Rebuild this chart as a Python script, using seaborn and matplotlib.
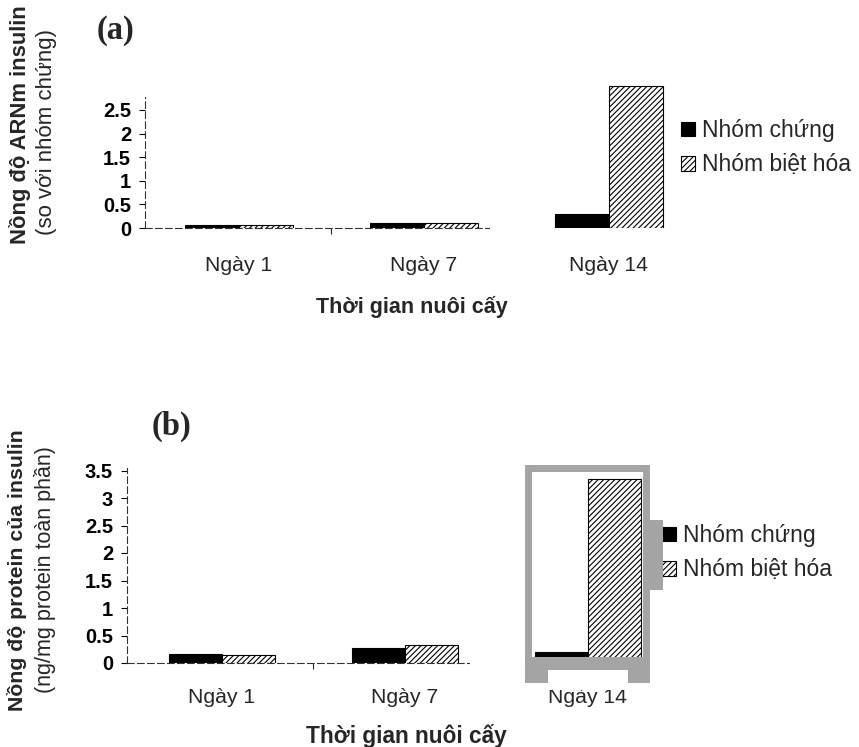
import numpy as np
import pandas as pd
import matplotlib.pyplot as plt
import seaborn as sns
from matplotlib.patches import Rectangle

# Data
days = ["Ngày 1", "Ngày 7", "Ngày 14"]
groups = ["Nhóm chứng", "Nhóm biệt hóa"]
mrna_control = [0.07, 0.11, 0.30]
mrna_diff = [0.07, 0.10, 3.00]
protein_control = [0.17, 0.27, 0.20]
protein_diff = [0.15, 0.32, 3.35]
mrna_ticks = [0, 0.5, 1, 1.5, 2, 2.5]
protein_ticks = [0, 0.5, 1, 1.5, 2, 2.5, 3, 3.5]


def long_table(ctrl, diff):
    return pd.DataFrame({
        "day": days * 2,
        "group": [groups[0]] * 3 + [groups[1]] * 3,
        "value": ctrl + diff,
    })


sns.set_theme(style="white")
plt.rcParams["font.family"] = ["Liberation Sans", "DejaVu Sans"]
plt.rcParams["hatch.linewidth"] = 0.8

W, H = 859, 747
fig = plt.figure(figsize=(W / 100, H / 100), dpi=100)


def px(x, y):
    return x / W, 1 - y / H


def draw_panel(ax, df, yticks, ylim, spine_top, xlim, xpad):
    sns.barplot(data=df, x="day", y="value", hue="group", order=days, hue_order=groups,
                palette={groups[0]: "black", groups[1]: "white"}, edgecolor="black",
                linewidth=0.8, width=0.58, saturation=1, legend=False, ax=ax)
    for bar in ax.containers[1]:
        bar.set_hatch("//////")
    ax.set_ylim(*ylim)
    ax.set_xlim(*xlim)
    ax.set_yticks(yticks)
    ax.set_yticklabels([f"{t:g}" for t in yticks], fontsize=14.5, fontweight="bold")
    ax.tick_params(axis="y", left=True, length=4, width=0.8, pad=6, colors="black")
    ax.tick_params(axis="x", bottom=False, pad=xpad, labelsize=15.3)
    ax.set_xticks([0.5], minor=True)
    ax.tick_params(axis="x", which="minor", bottom=True, length=4, width=0.8)
    ax.set_xlabel("")
    ax.set_ylabel("")
    for s in ["top", "right"]:
        ax.spines[s].set_visible(False)
    ax.spines["left"].set_bounds(0, spine_top)
    ax.spines["left"].set_linestyle((0, (6, 3)))
    ax.spines["bottom"].set_bounds(xlim[0], 1.35)
    ax.spines["bottom"].set_linestyle((0, (6, 3)))
    for s in ["left", "bottom"]:
        ax.spines[s].set_color("#333333")
        ax.spines[s].set_linewidth(0.8)
    return ax


legend_kw = dict(loc="upper left", bbox_transform=fig.transFigure, frameon=False,
                 fontsize=16.5, handlelength=0.6, handleheight=0.6,
                 handletextpad=0.3, labelspacing=0.5, borderaxespad=0, borderpad=0)

# Panel (a)
l, b = px(145, 228)
ax1 = fig.add_axes([l, b, (683 - 145) / W, 144 / H])
draw_panel(ax1, long_table(mrna_control, mrna_diff), mrna_ticks, (0, 3.05), 2.78,
           (-0.508, 2.4), 14)
ax1.legend(handles=[ax1.containers[0], ax1.containers[1]], labels=groups,
           bbox_to_anchor=px(681, 119), **legend_kw)

# Panel (b)
l, b = px(127, 663)
ax2 = fig.add_axes([l, b, (661 - 127) / W, 198 / H])
draw_panel(ax2, long_table(protein_control, protein_diff), protein_ticks, (0, 3.6), 3.55,
           (-0.519, 2.4), 12)

# grey frame of the pasted Ngày 14 insert
grey = "#a4a4a4"
fig.patches.append(Rectangle(px(528, 679), 118 / W, 211 / H, transform=fig.transFigure,
                             fill=False, edgecolor=grey, linewidth=5, zorder=0))
fig.patches.append(Rectangle(px(525, 681), 124 / W, 24 / H, transform=fig.transFigure,
                             facecolor=grey, edgecolor="none", zorder=0))
fig.patches.append(Rectangle(px(548, 690), 80 / W, 20 / H, transform=fig.transFigure,
                             facecolor="white", edgecolor="none", zorder=0))
fig.patches.append(Rectangle(px(647, 590), 16 / W, 70 / H, transform=fig.transFigure,
                             facecolor=grey, edgecolor="none", zorder=0))

ax2.legend(handles=[ax2.containers[0], ax2.containers[1]], labels=groups,
           bbox_to_anchor=px(662, 524), **legend_kw)

# panel letters
fig.text(*px(97, 30), "(a)", family="Liberation Serif", fontweight="bold", fontsize=23.5,
         va="center", ha="left")
fig.text(*px(152, 426), "(b)", family="Liberation Serif", fontweight="bold", fontsize=23.5,
         va="center", ha="left")

# axis titles
fig.text(*px(412, 307), "Thời gian nuôi cấy", fontweight="bold", fontsize=15.5,
         ha="center", va="center")
fig.text(*px(406, 736), "Thời gian nuôi cấy", fontweight="bold", fontsize=16.3,
         ha="center", va="center")
fig.text(*px(20, 125), "Nồng độ ARNm insulin", fontweight="bold", fontsize=15.8,
         rotation=90, ha="center", va="center")
fig.text(*px(47, 132), "(so với nhóm chứng)", fontsize=16,
         rotation=90, ha="center", va="center")
fig.text(*px(17, 570), "Nồng độ protein của insulin", fontweight="bold", fontsize=15.3,
         rotation=90, ha="center", va="center")
fig.text(*px(45, 570), "(ng/mg protein toàn phần)", fontsize=15.5,
         rotation=90, ha="center", va="center")

fig.savefig("out.png", dpi=100, facecolor="white")
